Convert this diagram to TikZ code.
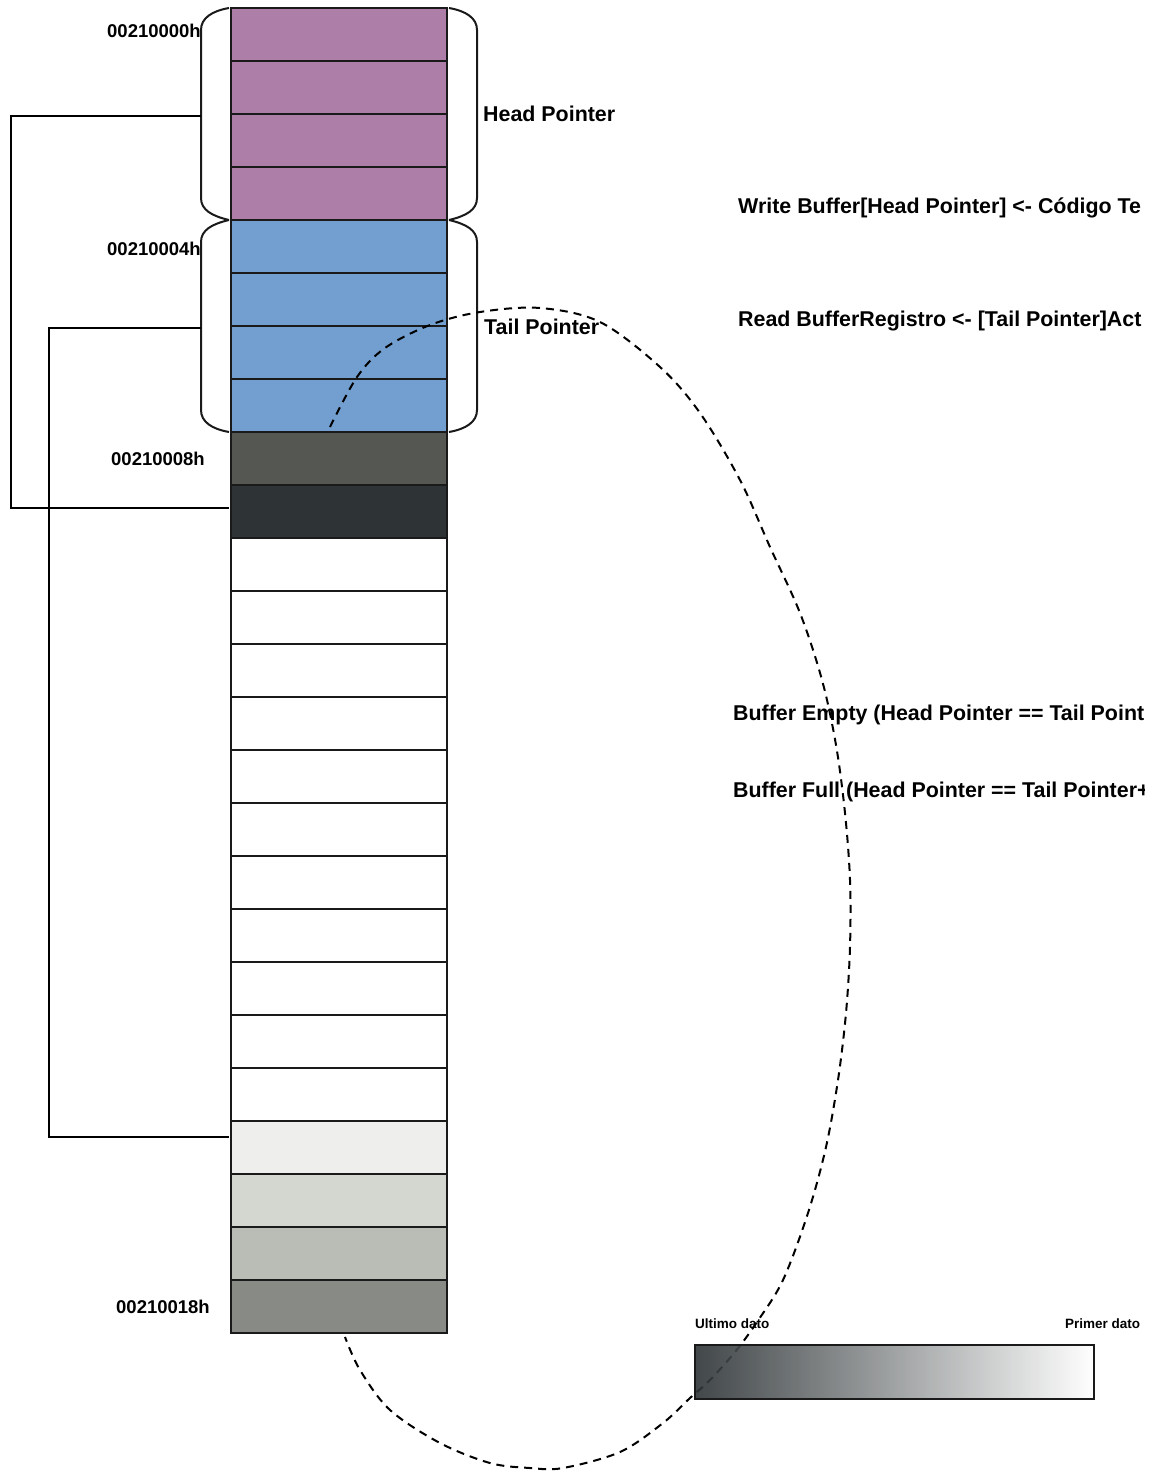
\documentclass[tikz,border=0pt]{standalone}
\usepackage{fontspec}
\setmainfont{Liberation Sans}
\definecolor{plum}{HTML}{AD7FA8}
\definecolor{sky}{HTML}{729FCF}
\definecolor{gA}{HTML}{555753}
\definecolor{gB}{HTML}{2E3436}
\definecolor{gC}{HTML}{EEEEEC}
\definecolor{gD}{HTML}{D3D7CF}
\definecolor{gE}{HTML}{BABDB6}
\definecolor{gF}{HTML}{888A85}
\definecolor{edge}{HTML}{1A1A1A}
\begin{document}
\begin{tikzpicture}[x=1pt,y=-1pt,
  cell/.style={draw=edge, line width=2pt, minimum width=216pt, minimum height=53pt,
    inner sep=0pt, outer sep=0pt, anchor=north west},
  addr/.style={font=\fontsize{18.5}{22}\selectfont\bfseries, anchor=base east, inner sep=0pt},
  big/.style={font=\fontsize{21.4}{25}\selectfont\bfseries, anchor=base west, inner sep=0pt},
  small/.style={font=\fontsize{13.5}{16}\selectfont\bfseries, anchor=base west, inner sep=0pt},
  bracket/.style={line width=2pt, draw=edge},
  wire/.style={line width=2pt, draw=black},
  loopline/.style={line width=2pt, draw=black, dash pattern=on 8pt off 6pt}]
\useasboundingbox (0,0) rectangle (1155,1472);
\fill[white] (0,0) rectangle (1155,1472);

% memory cells
\foreach \c [count=\i from 0] in {plum,plum,plum,plum,sky,sky,sky,sky,gA,gB,
  white,white,white,white,white,white,white,white,white,white,white,gC,gD,gE,gF}
  \node[cell, fill=\c] (c\i) at (231,{8+53*\i}) {};

% braces
\draw[bracket] (229,8) .. controls (212,11) and (201,18) .. (201,30) -- (201,198)
  .. controls (201,210) and (212,216) .. (229,220);
\draw[bracket] (229,220) .. controls (212,224) and (201,230) .. (201,242) -- (201,410)
  .. controls (201,422) and (212,429) .. (229,432);
\draw[bracket] (449,8) .. controls (466,11) and (477,18) .. (477,30) -- (477,198)
  .. controls (477,210) and (466,216) .. (449,220);
\draw[bracket] (449,220) .. controls (466,224) and (477,230) .. (477,242) -- (477,410)
  .. controls (477,422) and (466,429) .. (449,432);

% pointer connectors
\coordinate (hp) at (201,116);
\coordinate (he) at (229,508);
\coordinate (tp) at (201,328);
\coordinate (te) at (229,1137);
\draw[wire] (hp) -- ++(-190,0) |- (he);
\draw[wire] (tp) -- ++(-152,0) |- (te);

% addresses
\node[addr] (a0) at (201,38) {00210000h};
\node[addr] (a4) at (201,255) {00210004h};
\node[addr] (a8) at (205,465) {00210008h};
\node[addr] (a18) at (210,1313) {00210018h};

% labels
\node[big] (hpl) at (483,121.5) {Head Pointer};
\node[big] (tpl) at (484,334) {Tail Pointer};
\begin{scope}
\clip (0,0) rectangle (1144,1472);
\node[big] (w) at (738,213) {Write Buffer[Head Pointer] <- Código Te};
\node[big] (r) at (738,326) {Read BufferRegistro <- [Tail Pointer]Act};
\node[big] (be) at (733,720) {Buffer Empty (Head Pointer == Tail Point};
\node[big] (bf) at (733,797) {Buffer Full (Head Pointer == Tail Pointer+};
\end{scope}
\node[small] (ud) at (695,1328) {Ultimo dato};
\node[small] (pd) at (1065,1328) {Primer dato};

% dashed loop
\draw[loopline] plot[smooth, tension=0.55] coordinates {
 (330,427) (357,377) (385,348) (430,325) (480,312) (540,308) (600,322) (660,367)
 (700,413) (740,480) (770,547) (800,613) (822,680) (836,745) (845,813) (850,880)
 (850,947) (846,1013) (838,1080) (826,1147) (808,1213) (783,1280) (757,1322)
 (735,1352) (710,1380) (690,1398) (663,1423) (620,1452) (563,1468) (530,1468)
 (490,1463) (440,1443) (390,1410) (360,1370) (345,1337)};

% gradient bar
\node[draw=edge, line width=2pt, left color=gB, right color=white, fill opacity=0.9,
  minimum width=399pt, minimum height=54pt, anchor=north west, inner sep=0pt] (bar)
  at (694,1344) {};
\end{tikzpicture}
\end{document}
